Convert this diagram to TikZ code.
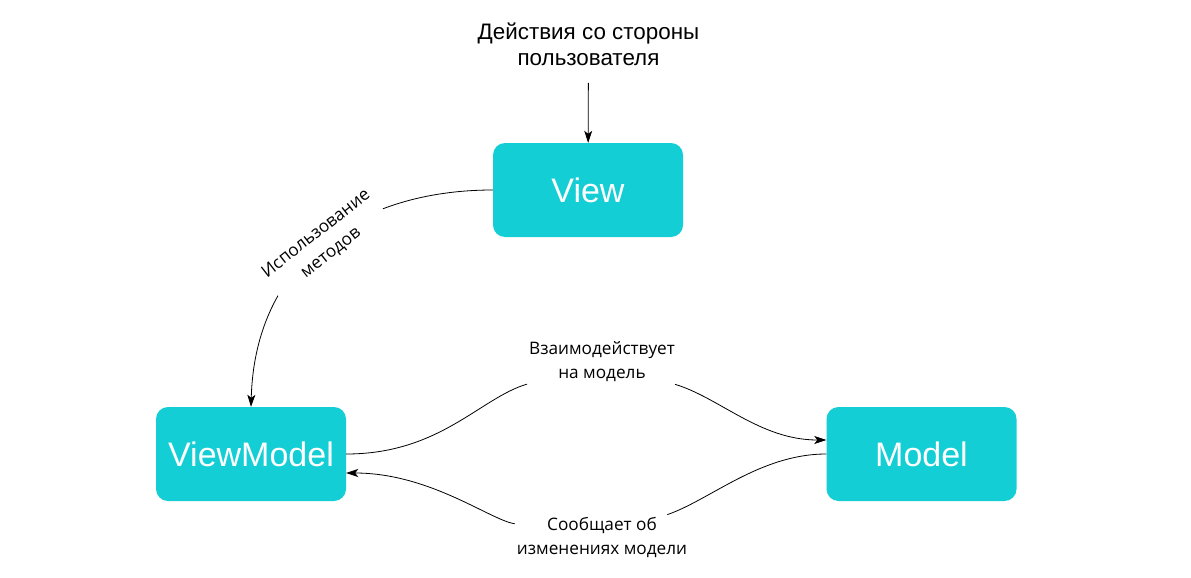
\documentclass[tikz,border=0pt]{standalone}
\usepackage{fontspec}
\setmainfont{Liberation Sans}
\newfontfamily\labelfont{Open Sans}
\usetikzlibrary{arrows.meta}
\definecolor{boxcyan}{RGB}{19,206,212}
\tikzset{
  block/.style={rectangle, rounded corners=12pt, fill=boxcyan, text=white,
    minimum width=190pt, minimum height=94pt, font=\fontsize{34}{40}\selectfont},
  edgelabel/.style={fill=white, align=center, inner sep=2pt,
    font=\labelfont\fontsize{17.2}{24}\selectfont},
  link/.style={line width=0.8pt, -{Stealth[length=12pt,width=8pt,inset=3pt]}}
}
\begin{document}
\begin{tikzpicture}[x=1pt,y=-1pt]
  \useasboundingbox[fill=white] (0,0) rectangle (1191,578);
  \draw
    (588,190) node[block] (view){View}
    (251,454) node[block] (vm){ViewModel}
    (921.5,454) node[block] (model){Model}
    (588.5,44) node[align=center, font=\fontsize{22.4}{26}\selectfont] (user){Действия со стороны\\пользователя}
    (602,362) node[edgelabel] (act){Взаимодействует\\на модель}
    (602,537) node[edgelabel] (notify){Сообщает об\\изменениях модели};
  \begin{scope}[link]
    \draw[shorten <=14pt] (user) -- (view);
    \draw[-] (vm.east) .. controls (440,454) and (480,398) .. (act);
    \draw (act) .. controls (720,398) and (760,440) .. ([yshift=14pt]model.west);
    \draw[-] (model.west) .. controls (760,454) and (710,500) .. (notify);
    \draw (notify) .. controls (490,520) and (430,473) .. ([yshift=-19pt]vm.east);
    \draw (view.west) .. controls (360,190) and (255,260)
      .. node[edgelabel, rotate=38] (use){Использование\\методов} (vm.north);
  \end{scope}
\end{tikzpicture}
\end{document}
